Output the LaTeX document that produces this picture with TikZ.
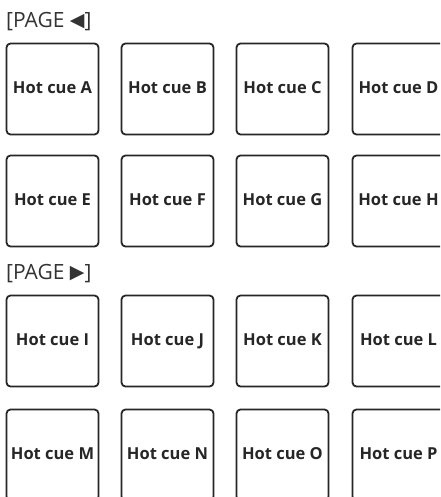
\documentclass[tikz,border=0pt]{standalone}
\usepackage{fontspec}
\setmainfont{Open Sans}
\newfontfamily\symfont{DejaVu Sans}
\usepackage{tikz}
\usetikzlibrary{positioning}

\begin{document}
\begin{tikzpicture}[x=1pt, y=-1pt,
        pad/.style={draw=black!85, line width=1.8pt, rounded corners=4pt, minimum width=92pt, minimum height=91pt, inner sep=0pt, text height=12pt, text depth=3pt, font=\fontsize{16.5}{19}\selectfont\bfseries, text=black!85},
        pagelbl/.style={anchor=west, inner sep=0pt, font=\fontsize{21}{25}\selectfont, text=black!80}]
        \clip (0,0) rectangle (440,497);

        % Page labels
        \node[pagelbl] (pageL) at (6, 22) {[PAGE {\symfont\fontsize{19}{25}\selectfont\raisebox{1.5pt}{◀}}]};
        \node[pagelbl] (pageR) at (6, 274) {[PAGE {\symfont\fontsize{19}{25}\selectfont\raisebox{1.5pt}{▶}}]};

        % First page of pads
        \node[pad] (A) at (52.5, 89) {Hot cue A};
        \node[pad] (B) at (167.5, 89) {Hot cue B};
        \node[pad] (C) at (282.5, 89) {Hot cue C};
        \node[pad] (D) at (398.5, 89) {Hot cue D};
        \node[pad] (E) at (52.5, 201) {Hot cue E};
        \node[pad] (F) at (167.5, 201) {Hot cue F};
        \node[pad] (G) at (282.5, 201) {Hot cue G};
        \node[pad] (H) at (398.5, 201) {Hot cue H};

        % Second page of pads
        \node[pad] (I) at (52.5, 341) {Hot cue I};
        \node[pad] (J) at (167.5, 341) {Hot cue J};
        \node[pad] (K) at (282.5, 341) {Hot cue K};
        \node[pad] (L) at (398.5, 341) {Hot cue L};
        \node[pad] (M) at (52.5, 455) {Hot cue M};
        \node[pad] (N) at (167.5, 455) {Hot cue N};
        \node[pad] (O) at (282.5, 455) {Hot cue O};
        \node[pad] (P) at (398.5, 455) {Hot cue P};
    \end{tikzpicture}
\end{document}
